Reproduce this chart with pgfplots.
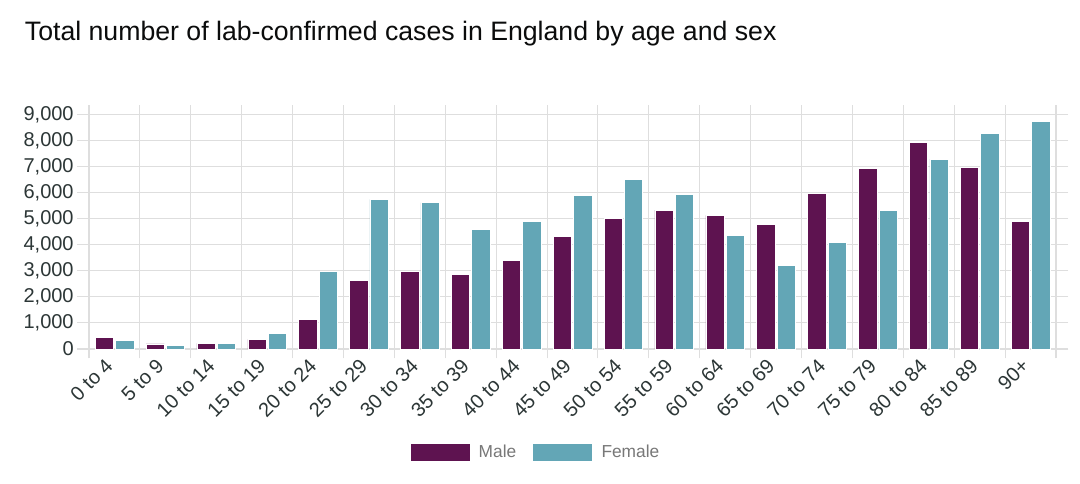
\documentclass[border=0pt]{standalone}
\usepackage{pgfplots}
\pgfplotsset{compat=1.18}
\usepackage{pgfplotstable}
\usepackage{fontspec}
\setmainfont{Liberation Sans}
\definecolor{male}{RGB}{94,19,80}
\definecolor{female}{RGB}{99,166,182}
\definecolor{gridc}{RGB}{222,222,222}
\definecolor{zeroc}{RGB}{170,170,170}
\definecolor{tickc}{RGB}{44,54,54}
\definecolor{legc}{RGB}{120,120,120}
\definecolor{titlec}{RGB}{11,12,12}
\pgfplotstableread{
cat male female
0 440 340
1 192 153
2 218 218
3 371 613
4 1150 2990
5 2646 5740
6 2965 5610
7 2850 4590
8 3400 4882
9 4333 5905
10 5010 6518
11 5330 5930
12 5126 4371
13 4780 3220
14 5980 4077
15 6915 5330
16 7937 7285
17 6953 8270
18 4896 8716
}\datatable
\begin{document}
\begin{tikzpicture}
\useasboundingbox[fill=white] (0,0) rectangle (810pt,362.25pt);
\node[anchor=base west, inner sep=0pt, text=titlec, font=\fontsize{20}{24}\selectfont] at (18.5pt,332pt) {Total number of lab-confirmed cases in England by age and sex};
\begin{axis}[
  at={(66.75pt,100.5pt)}, anchor=south west,
  scale only axis, width=725.25pt, height=176pt,
  ybar,
  xmin=-0.5, xmax=18.5, ymin=0, ymax=9000,
  xtick={0,...,18},
  xticklabels={0 to 4,5 to 9,10 to 14,15 to 19,20 to 24,25 to 29,30 to 34,35 to 39,40 to 44,45 to 49,50 to 54,55 to 59,60 to 64,65 to 69,70 to 74,75 to 79,80 to 84,85 to 89,90+},
  minor xtick={-0.5,0.5,...,18.5},
  xminorgrids, minor grid style={gridc, line width=0.8pt},
  ytick={0,1000,...,9000},
  ymajorgrids, major grid style={gridc, line width=0.8pt},
  tick align=outside,
  major tick length=9pt, minor tick length=7pt,
  every major x tick/.append style={draw=none},
  every tick/.append style={gridc, line width=0.8pt},
  axis line style={gridc, line width=0.8pt},
  /pgf/number format/assume math mode=true,
  /pgf/number format/1000 sep={,},
  yticklabel style={font=\fontsize{15}{18}\selectfont, text=tickc, xshift=1pt},
  xticklabel style={font=\fontsize{15}{18}\selectfont, text=tickc, rotate=45, anchor=east, yshift=2pt},
  extra y ticks={0}, extra y tick labels={},
  extra y tick style={grid style={zeroc, line width=0.9pt}},
  legend style={at={(0.462,-0.439)}, anchor=center, draw=none, fill=none,
    legend columns=2, font=\fontsize{13}{15}\selectfont, text=legc,
    /tikz/every odd column/.append style={column sep=4.5pt},
    /tikz/every even column/.append style={column sep=10pt}},
  legend image code/.code={\fill[#1] (0pt,-6.75pt) rectangle (45pt,6.75pt);},
]
\addplot[fill=male, draw=white, line width=0.4pt, bar width=0.36, bar shift=-0.2] table[x=cat, y=male] {\datatable};
\addplot[fill=female, draw=white, line width=0.4pt, bar width=0.36, bar shift=0.2] table[x=cat, y=female] {\datatable};
\legend{Male, Female}
\end{axis}
\end{tikzpicture}
\end{document}
